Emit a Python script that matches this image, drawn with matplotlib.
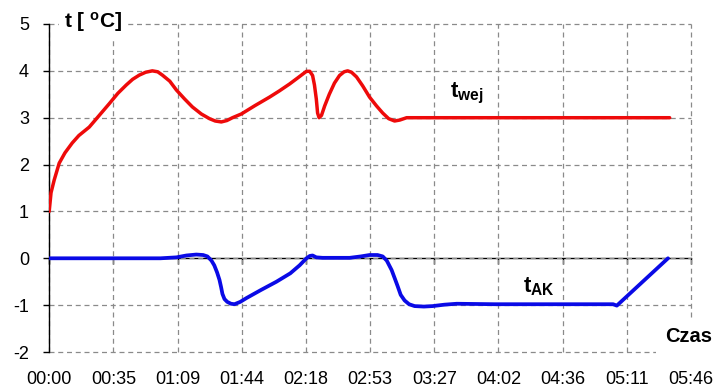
import matplotlib
matplotlib.use("Agg")
import matplotlib.pyplot as plt

plt.rcParams['font.family'] = ['Liberation Sans', 'DejaVu Sans']
plt.rcParams['mathtext.fontset'] = 'custom'
plt.rcParams['mathtext.rm'] = 'Liberation Sans'
plt.rcParams['mathtext.bf'] = 'Liberation Sans:bold'
plt.rcParams['mathtext.it'] = 'Liberation Sans:italic'
plt.rcParams['axes.unicode_minus'] = False

# ---- data (time in minutes, temperature in deg C) ----
t_wej_time = [0, 1, 2.7, 5.4, 8.5, 12.4, 16, 21.6, 27, 32.4, 37, 41.6, 45, 48.6,
              52, 55.6, 58.5, 61, 65, 68.6, 73, 77.2, 82, 86.4, 89.5, 92.8, 95.8,
              98.8, 103.6, 111, 118.8, 124, 129.6, 134, 137, 138.7, 140.5, 142,
              143, 144, 144.7, 145.5, 146.8, 148.5, 151, 153.8, 156.5, 159, 160.9,
              163, 165.7, 169, 172.7, 176.5, 179.8, 183, 186.2, 189, 192.7, 200,
              334.5]
t_wej_vals = [1.0, 1.4, 1.67, 2.03, 2.25, 2.46, 2.62, 2.8, 3.05, 3.3, 3.52, 3.7,
              3.82, 3.91, 3.97, 4.0, 3.98, 3.91, 3.78, 3.59, 3.4, 3.23, 3.08, 2.98,
              2.93, 2.91, 2.94, 3.0, 3.08, 3.26, 3.44, 3.57, 3.72, 3.85, 3.94, 3.99,
              3.99, 3.9, 3.7, 3.4, 3.1, 3.0, 3.05, 3.25, 3.5, 3.74, 3.9, 3.98, 4.0,
              3.97, 3.87, 3.68, 3.44, 3.25, 3.1, 2.98, 2.93, 2.95, 3.0, 3.0, 3.0]

t_ak_time = [0, 60, 68.6, 74, 79.3, 83, 85.3, 87.5, 89, 90.5, 91.8, 92.7, 93.4,
             94.5, 96, 98, 99.9, 103, 106.3, 114, 122.5, 130, 135, 138.7, 140.5,
             142, 144, 147.4, 162, 168, 172.7, 177, 179.8, 182, 184.6, 186.5,
             187.9, 189.5, 191.6, 194, 197, 202, 206.7, 213, 219.7, 240, 304, 306,
             333.6]
t_ak_vals = [0, 0, 0.02, 0.06, 0.08, 0.07, 0.04, -0.05, -0.15, -0.3, -0.46, -0.62,
             -0.76, -0.87, -0.93, -0.97, -0.98, -0.93, -0.85, -0.68, -0.5, -0.32,
             -0.15, 0, 0.05, 0.06, 0.02, 0.01, 0.01, 0.04, 0.07, 0.07, 0.04, -0.05,
             -0.25, -0.45, -0.6, -0.78, -0.9, -0.98, -1.02, -1.03, -1.02, -0.99,
             -0.97, -0.98, -0.98, -1.01, 0]

x_tick_pos = [0, 34.6, 69.2, 103.8, 138.4, 173, 207.6, 242.2, 276.8, 311.4, 346]
x_tick_labels = ['00:00', '00:35', '01:09', '01:44', '02:18', '02:53', '03:27',
                 '04:02', '04:36', '05:11', '05:46']
y_ticks = [-2, -1, 0, 1, 2, 3, 4, 5]

# ---- figure ----
fig = plt.figure(figsize=(7.18, 3.87), dpi=100)
ax = fig.add_axes([0.0685, 0.0904, 0.9624 - 0.0685, 0.938 - 0.0904])

ax.set_xlim(0, 346)
ax.set_ylim(-2, 5)
ax.set_xticks(x_tick_pos)
ax.set_xticklabels(x_tick_labels)
ax.set_yticks(y_ticks)

ax.grid(True, linestyle=(0, (4, 3)), color='#8a8a8a', linewidth=0.9)
for gl in ax.get_xgridlines() + ax.get_ygridlines():
    gl.set_clip_on(False)
ax.set_axisbelow(True)

for s in ['top', 'right', 'bottom']:
    ax.spines[s].set_visible(False)
ax.spines['left'].set_color('black')
ax.spines['left'].set_linewidth(1.0)

ax.tick_params(axis='x', length=0, pad=14, labelsize=13, colors='black')
ax.tick_params(axis='y', length=4.5, width=1, direction='out', pad=10,
               labelsize=13, colors='black')

# horizontal axis line at 0 with tick marks
sec = ax.secondary_xaxis(2 / 7)
sec.set_xticks(x_tick_pos)
sec.tick_params(axis='x', length=4, width=1, labelbottom=False, labeltop=False,
                direction='out', colors='black')
sec.spines['bottom'].set_color('black')
sec.spines['bottom'].set_linewidth(1.0)
sec.spines['top'].set_visible(False)

ax.plot(t_wej_time, t_wej_vals, color='#ee0a0a', linewidth=2.5,
        solid_joinstyle='round', solid_capstyle='round', zorder=3)
ax.plot(t_ak_time, t_ak_vals, color='#0a0ae6', linewidth=2.7,
        solid_joinstyle='round', solid_capstyle='round', zorder=3)

ax.text(216, 3.25, r'$\mathbf{t_{wej}}$', fontsize=16, ha='left', va='bottom')
ax.text(255.5, -0.84, r'$\mathbf{t_{AK}}$', fontsize=16, ha='left', va='bottom')

ax.text(344.5, -1.67, 'Czas', fontsize=14.5, fontweight='bold', ha='center',
        va='center', clip_on=False, zorder=5,
        bbox=dict(boxstyle='square,pad=0.45', facecolor='white', edgecolor='none'))
ax.text(8, 5.04, r'$\mathbf{t\ [\ {}^{o}C]}$', fontsize=15, ha='left', va='center',
        clip_on=False, zorder=5,
        bbox=dict(boxstyle='square,pad=0.25', facecolor='white', edgecolor='none'))

fig.savefig('out.png', dpi=100, facecolor='white')
